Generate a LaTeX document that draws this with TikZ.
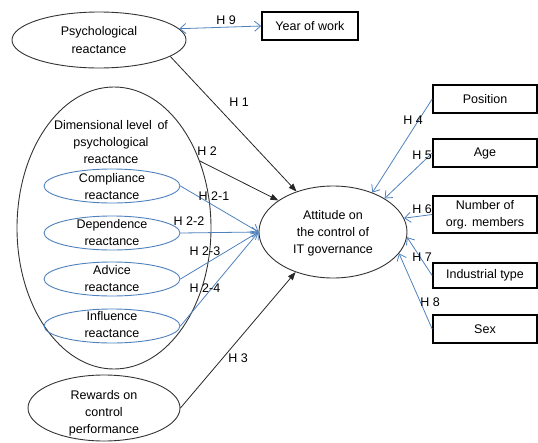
\documentclass[tikz,border=0pt]{standalone}
\usepackage{fontspec}
\setmainfont{Liberation Sans}
\usetikzlibrary{arrows.meta,shapes.geometric}
\definecolor{obl}{RGB}{79,129,189}
\begin{document}
\begin{tikzpicture}[x=1pt,y=-1pt,
  ell/.style={draw=black!80, line width=0.9pt, ellipse, inner sep=0pt},
  subell/.style={draw=obl, line width=0.9pt, ellipse, inner sep=0pt, minimum width=136pt, minimum height=34pt},
  txt/.style={align=center, font=\fontsize{12.5}{17}\selectfont, inner sep=0pt},
  box/.style={draw, line width=1.6pt, minimum width=104pt, minimum height=28pt, inner sep=0pt, align=center, font=\fontsize{12.5}{17}\selectfont},
  hl/.style={font=\fontsize{12.5}{14}\selectfont, inner sep=0pt},
  blk/.style={draw=black!85, line width=0.8pt, -{Triangle[length=8pt,width=6pt]}},
  blu/.style={draw=obl, line width=0.8pt, -{Straight Barb[length=6pt,width=10pt]}},
  blud/.style={draw=obl, line width=0.8pt, {Straight Barb[length=6pt,width=10pt]}-{Straight Barb[length=6pt,width=10pt]}}]
\useasboundingbox (0,0) rectangle (538,442);

% left side
\node[ell, minimum width=174pt, minimum height=56pt] (psy) at (99,40) {};
\node[txt] (psyt) at (99,40) {Psychological\\[1pt]reactance};

\node[ell, minimum width=194pt, minimum height=282pt] (dim) at (114,228) {};
\node[txt] (dimt) at (111,142) {Dimensional level\, of\\psychological\\reactance};

\node[subell] (comp) at (112,186) {};
\node[txt] (compt) at (112,187) {Compliance\\reactance};
\node[subell] (dep) at (112,233) {};
\node[txt] (dept) at (112,233) {Dependence\\reactance};
\node[subell] (adv) at (112,279) {};
\node[txt] (advt) at (112,279) {Advice\\reactance};
\node[subell] (inf) at (112,326) {};
\node[txt] (inft) at (112,325) {Influence\\reactance};

\node[ell, minimum width=152pt, minimum height=66pt] (rew) at (104,408) {};
\node[txt] (rewt) at (104,413) {Rewards on\\control\\performance};

% centre
\node[ell, minimum width=148pt, minimum height=92pt] (att) at (333,232) {};
\node[txt] (attt) at (333,233) {Attitude on\\the control of\\IT governance};

% right side boxes
\node[box, minimum width=96pt] (year) at (310,26) {Year of work};
\node[box] (pos) at (485,99) {Position};
\node[box] (age) at (485,153) {Age};
\node[box, minimum height=37pt] (num) at (485,214.5) {Number of\\org. members};
\node[box, minimum height=25pt] (ind) at (485,275.5) {Industrial type};
\node[box] (sex) at (485,329) {Sex};

% connectors
\draw[blud] (psy.8) -- (year.west);
\draw[blk] (psy.-13) -- (att.132);
\draw[blk] (dim.38) -- (att.150);
\draw[blu] (comp.east) -- (att.west);
\draw[blu] (dep.east) -- (att.west);
\draw[blu] (adv.east) -- (att.west);
\draw[blu] (inf.east) -- (att.west);
\draw[blk] (rew.east) -- (att.227);
\draw[blu] (pos.west) -- (att.45);
\draw[blu] (age.west) -- (att.33);
\draw[blu] (num.west) -- (att.11);
\draw[blu] (ind.west) -- (att.-4);
\draw[blu] (sex.west) -- (att.-18);

% labels
\node[hl] (h9) at (226,20) {H 9};
\node[hl] (h1) at (239,102) {H 1};
\node[hl] (h2) at (207,151) {H 2};
\node[hl] (h21) at (214,196) {H 2-1};
\node[hl] (h22) at (189,221) {H 2-2};
\node[hl] (h23) at (205,251) {H 2-3};
\node[hl] (h24) at (205,288) {H 2-4};
\node[hl] (h3) at (238,358) {H 3};
\node[hl] (h4) at (413,120) {H 4};
\node[hl] (h5) at (422,155) {H 5};
\node[hl] (h6) at (422,209) {H 6};
\node[hl] (h7) at (422,257) {H 7};
\node[hl] (h8) at (430,302) {H 8};
\end{tikzpicture}
\end{document}
